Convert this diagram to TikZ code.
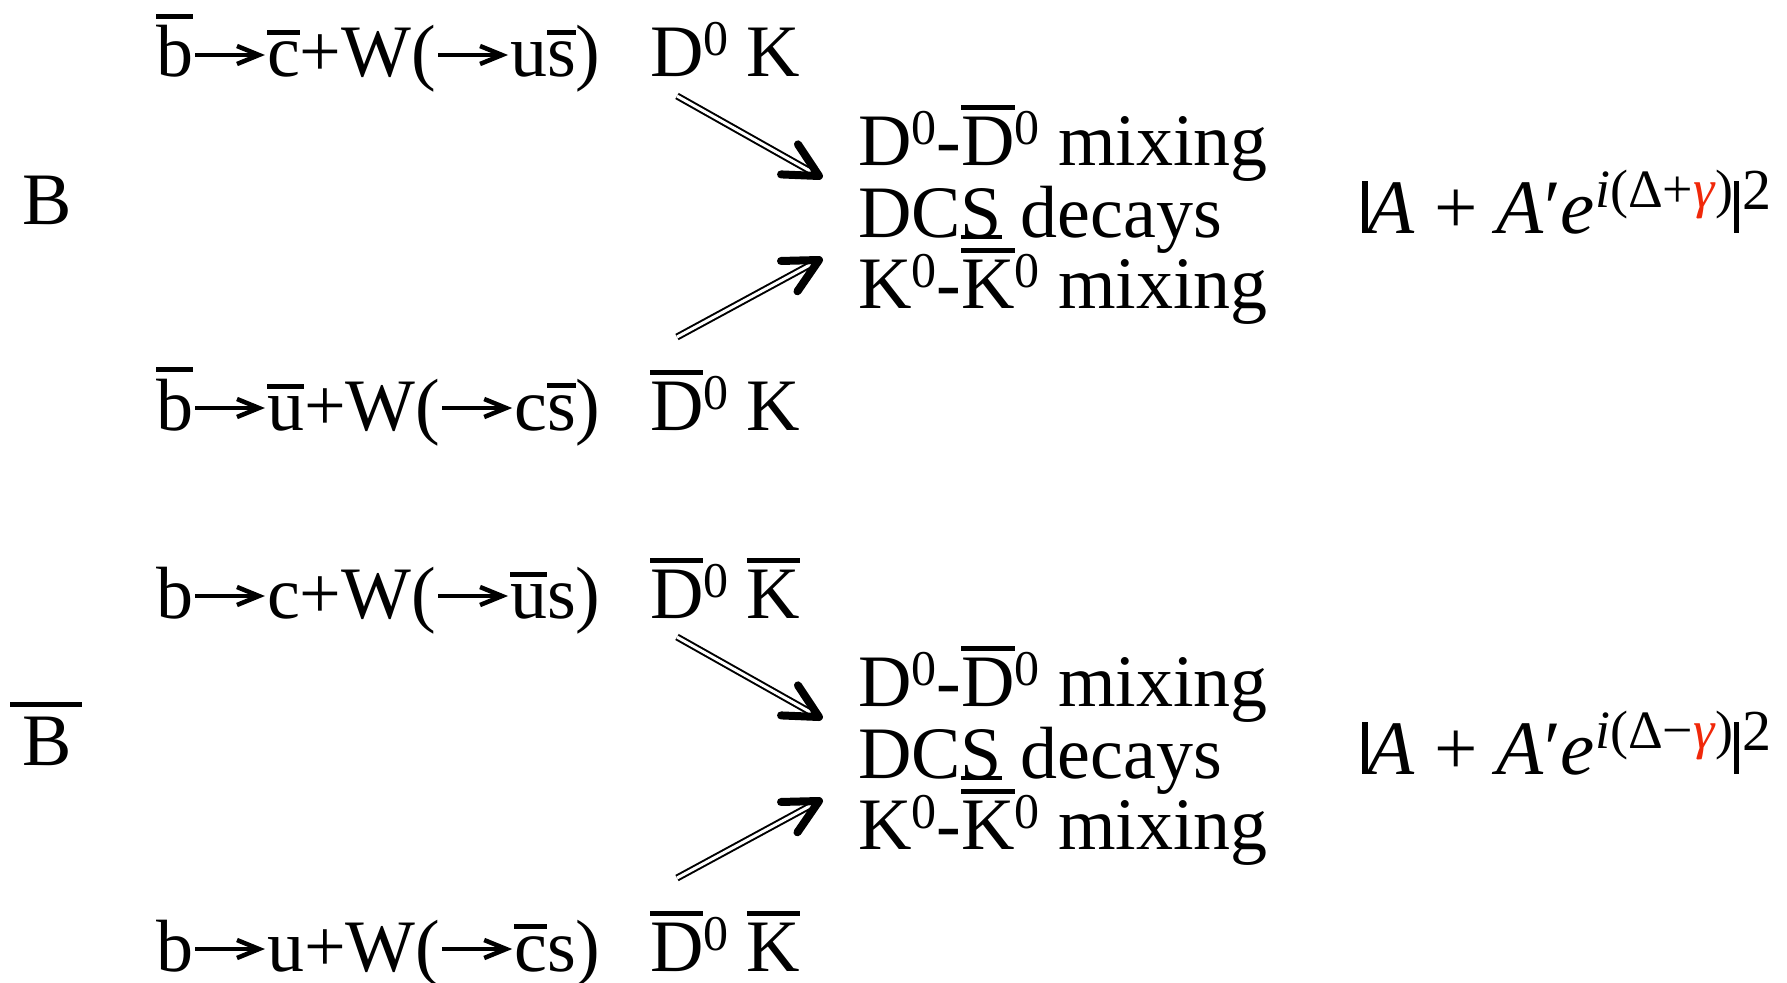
\documentclass[tikz,border=0pt]{standalone}
\usepackage{fontspec}
\setmainfont{Liberation Serif}
\usetikzlibrary{calc}
\definecolor{gammared}{RGB}{240,40,10}
% bar over / under a glyph
\newcommand\ovl[1]{\vbox{\hrule height 5pt\kern 7pt\hbox{#1}}}
\newcommand\ovlB[1]{\vbox{\hrule height 5pt\kern 10pt\hbox{\kern 13pt #1\kern 10pt}}}
\newcommand\undl[1]{\vtop{\hbox{#1}\kern -3pt\hrule height 4pt}}
% small raised zero
\newcommand\sups[1]{\raisebox{21pt}{\fontsize{50}{50}\selectfont #1}}
% absolute value bar and exponent of the amplitude
\newcommand\absbar{\rule{5.5pt}{52pt}}
\newcommand\expo[1]{\raisebox{26pt}{\fontsize{54}{54}\selectfont #1}}
\newcommand\sqr{\kern 3pt\raisebox{24pt}{\fontsize{58}{58}\selectfont 2}}
% inline reaction arrow: thin shaft, heavy chevron head
\newcommand\ra{\tikz[baseline=0pt,x=1pt,y=1pt]{%
  \useasboundingbox (0,0) rectangle (74,1);
  \draw[line width=3.5pt, line cap=butt] (2,22) -- (64,22);
  \draw[line width=4.5pt, line join=miter, line cap=butt] (44,31) -- (66,22) -- (44,13);}}
% double-shafted arrow with an open barbed head
\newcommand\dblarrow[2]{%
  \draw[shaft] (#1) -- ($(#2)!7pt!(#1)$);
  \draw[barb] ($(#2)!38pt!27:(#1)$) -- (#2) -- ($(#2)!38pt!-27:(#1)$);}

\begin{document}
\begin{tikzpicture}[x=1pt,y=-1pt,
  every node/.style={inner sep=0pt, outer sep=0pt, anchor=base west,
    font=\fontsize{74}{80}\selectfont},
  formula/.style={font=\fontsize{77}{80}\selectfont},
  shaft/.style={line width=2pt, double=white, double distance=3pt},
  barb/.style={line width=8pt, line cap=round, line join=round}]
\fill[white] (0,0) rectangle (1787,982);
\useasboundingbox (0,0) rectangle (1787,982);

% ---- B decays ----
\node (B) at (23,224) {B};
\node (r1l) at (156,77) {\ovl{b}\ra\ovl{c}+W(\ra u\ovl{s})};
\node (r1r) at (650,77) {D\sups{0} K};
\node (m1) at (858,165) {D\sups{0}-\ovl{D}\sups{0} mixing};
\node (m2) at (858,237) {DC\undl{S} decays};
\node (m3) at (858,308) {K\sups{0}-\ovl{K}\sups{0} mixing};
\node (r2l) at (156,430) {\ovl{b}\ra\ovl{u}+W(\ra c\ovl{s})};
\node (r2r) at (650,430) {\ovl{D}\sups{0} K};
\node[formula] (f1) at (1362,233) {\absbar\textit{A} + \textit{A}′\textit{e}\expo{\textit{i}(Δ+\textcolor{gammared}{\textit{γ}})}\absbar\sqr};

\coordinate (a1s) at (677,96);
\coordinate (a1t) at (819,176);
\coordinate (a2s) at (677,337);
\coordinate (a2t) at (819,260);
\dblarrow{a1s}{a1t}
\dblarrow{a2s}{a2t}

% ---- Bbar decays ----
\node (Bb) at (10,765) {\ovlB{B}};
\node (r3l) at (156,618) {b\ra c+W(\ra\ovl{u}s)};
\node (r3r) at (650,618) {\ovl{D}\sups{0} \ovl{K}};
\node (m4) at (858,706) {D\sups{0}-\ovl{D}\sups{0} mixing};
\node (m5) at (858,778) {DC\undl{S} decays};
\node (m6) at (858,849) {K\sups{0}-\ovl{K}\sups{0} mixing};
\node (r4l) at (156,971) {b\ra u+W(\ra\ovl{c}s)};
\node (r4r) at (650,971) {\ovl{D}\sups{0} \ovl{K}};
\node[formula] (f2) at (1362,774) {\absbar\textit{A} + \textit{A}′\textit{e}\expo{\textit{i}(Δ−\textcolor{gammared}{\textit{γ}})}\absbar\sqr};

\coordinate (a3s) at (677,637);
\coordinate (a3t) at (819,717);
\coordinate (a4s) at (677,878);
\coordinate (a4t) at (819,801);
\dblarrow{a3s}{a3t}
\dblarrow{a4s}{a4t}
\end{tikzpicture}
\end{document}
